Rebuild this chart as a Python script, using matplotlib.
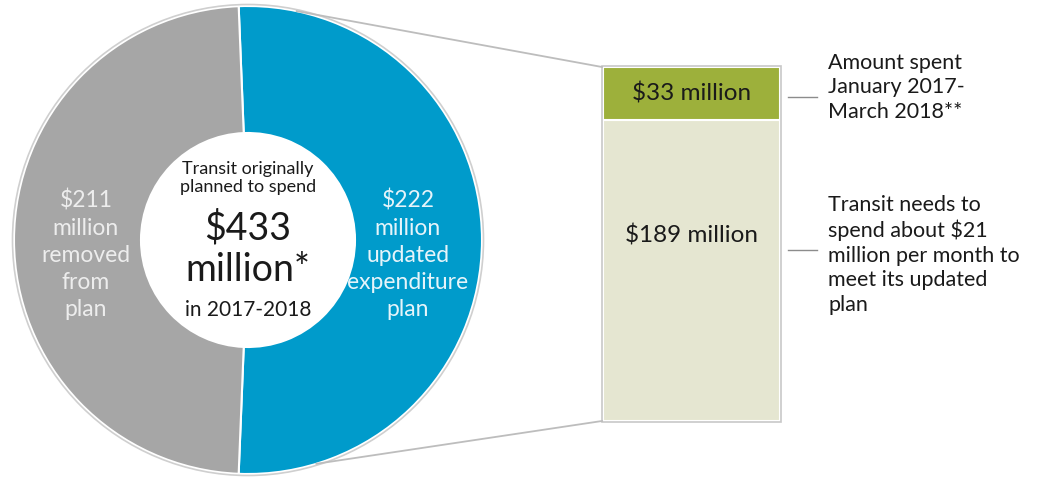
import numpy as np
import matplotlib.pyplot as plt
from matplotlib.patches import Circle

plt.rcParams['font.family'] = ['Lato', 'DejaVu Sans']

# donut: original plan split
donut_values = [222, 211]          # updated plan, removed
donut_colors = ['#009BCB', '#A6A6A6']
# stacked bar: updated plan split
bar_values = [189, 33]             # still to spend, spent
bar_colors = ['#E5E6D1', '#9DB03B']
bar_labels = ['\\$189 million', '\\$33 million']
notes = ['Transit needs to\nspend about \\$21\nmillion per month to\nmeet its updated\nplan',
         'Amount spent\nJanuary 2017-\nMarch 2018**']

W, H = 1041, 478
def Y(p):
    return H - p

fig = plt.figure(figsize=(W / 100, H / 100), dpi=100)
ax = fig.add_axes([0, 0, 1, 1])

cx, cy, R, r_in = 248, Y(240), 234, 107
total = sum(donut_values)
start = -180 * donut_values[0] / total
ax.pie(donut_values, colors=donut_colors, center=(cx, cy), radius=R,
       startangle=start, counterclock=True,
       wedgeprops=dict(width=R - r_in, edgecolor='white', linewidth=1.5))
ax.add_patch(Circle((cx, cy), R + 1.5, fill=False, edgecolor='#CFCFCF', lw=1.2))

# centre text
ax.text(cx, Y(178), 'Transit originally\nplanned to spend', ha='center', va='center',
        fontsize=13, linespacing=1.15, color='#1a1a1a')
ax.text(cx, Y(228), '\\$433', ha='center', va='center', fontsize=27, color='#1a1a1a')
ax.text(cx, Y(270), 'million*', ha='center', va='center', fontsize=27, color='#1a1a1a')
ax.text(cx, Y(310), 'in 2017-2018', ha='center', va='center', fontsize=15, color='#1a1a1a')

seg_txt = ['\\$222\nmillion\nupdated\nexpenditure\nplan',
           '\\$211\nmillion\nremoved\nfrom\nplan']
ax.text(408, Y(255), seg_txt[0], ha='center', va='center', fontsize=16.5,
        linespacing=1.36, color='#E6F4FA')
ax.text(86, Y(255), seg_txt[1], ha='center', va='center', fontsize=16.5,
        linespacing=1.36, color='#EDEDED')

# stacked bar
bx0, bx1, btop, bbot = 603, 780, 67, 421
scale = (bbot - btop) / sum(bar_values)
bottom = Y(bbot)
centers = []
for v, c in zip(bar_values, bar_colors):
    ax.bar((bx0 + bx1) / 2, v * scale, width=bx1 - bx0, bottom=bottom, color=c,
           edgecolor='white', linewidth=1.5)
    centers.append(bottom + v * scale / 2)
    bottom += v * scale
ax.add_patch(plt.Rectangle((bx0 - 1, Y(bbot) - 1), bx1 - bx0 + 2, bbot - btop + 2,
                           fill=False, edgecolor='#C8C8C8', lw=1.2))
ax.text((bx0 + bx1) / 2, Y(235), bar_labels[0], ha='center', va='center',
        fontsize=17.5, color='#1a1a1a')
ax.text((bx0 + bx1) / 2, centers[1], bar_labels[1], ha='center', va='center',
        fontsize=17.5, color='#1a1a1a')

# connector lines
for ang, py in [(78, btop), (-73, bbot)]:
    a = np.deg2rad(ang)
    ax.plot([cx + R * np.cos(a), bx0 - 1], [cy + R * np.sin(a), Y(py)],
            color='#BDBDBD', lw=1.3)

# notes
ax.plot([788, 817], [Y(250), Y(250)], color='#8C8C8C', lw=1)
ax.plot([788, 817], [Y(97), Y(97)], color='#8C8C8C', lw=1)
ax.text(828, Y(195), notes[0], ha='left', va='top', fontsize=15.5,
        linespacing=1.28, color='#1a1a1a')
ax.text(828, Y(53), notes[1], ha='left', va='top', fontsize=15.5,
        linespacing=1.28, color='#1a1a1a')

ax.set_xlim(0, W)
ax.set_ylim(0, H)
ax.set_aspect('auto')
ax.axis('off')
fig.savefig('out.png', dpi=100, facecolor='white')
